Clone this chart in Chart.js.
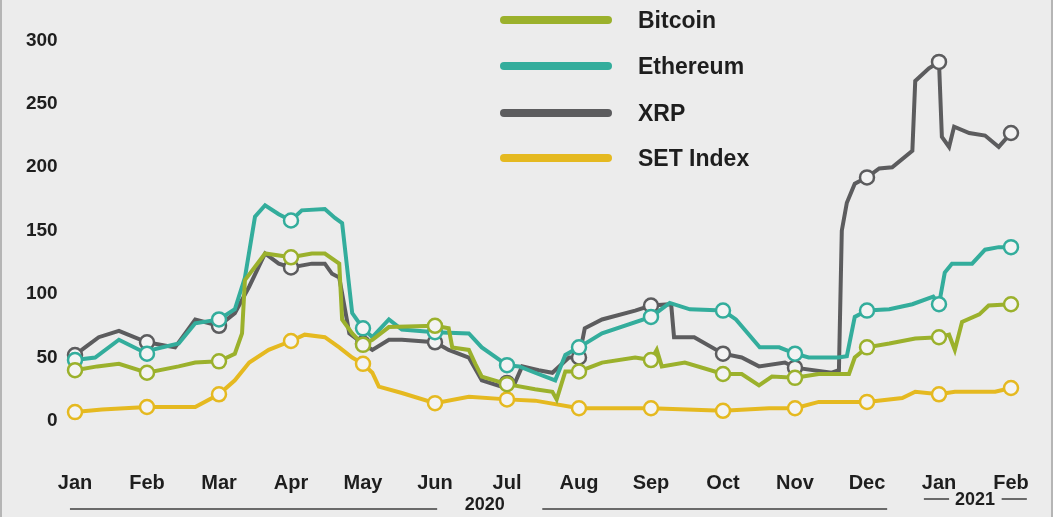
<!DOCTYPE html>
<html>
<head>
<meta charset="utf-8">
<script src="https://cdn.jsdelivr.net/npm/chart.js@4/dist/chart.umd.min.js"></script>
<style>
  html, body { margin: 0; padding: 0; background: #ececec; }
  #wrap {
    position: relative; width: 1053px; height: 517px; box-sizing: border-box;
    border-left: 2px solid #b5b5b5; border-right: 2px solid #b5b5b5;
    font-family: "Liberation Sans", Arial, sans-serif;
  }
  #chart { position: absolute; left: 0; top: 0; }
  .legend { position: absolute; left: 498px; top: 0; }
  .legend .row { position: absolute; left: 0; width: 300px; height: 46px; }
  .legend .bar { position: absolute; left: 0; width: 112px; height: 8px; border-radius: 4px; }
  .legend .txt { position: absolute; left: 138px; font-weight: bold; font-size: 23px; color: #1e1e1e; line-height: 26px; }
</style>
</head>
<body>
<div id="wrap">
  <canvas id="chart" width="1053" height="517"></canvas>
  <div class="legend" id="legend"></div>
</div>
<script>
// 月份标签与刻度
const monthLabels = ['Jan', 'Feb', 'Mar', 'Apr', 'May', 'Jun', 'Jul', 'Aug', 'Sep', 'Oct', 'Nov', 'Dec', 'Jan', 'Feb'];
const yTicks = [0, 50, 100, 150, 200, 250, 300];

// 各序列（x 为自 2020 年 1 月起的月份）
const btcMonths = [0,0.31,0.61,1,1.44,1.67,2,2.22,2.32,2.36,2.64,3,3.29,3.47,3.67,3.71,3.85,4,4.13,4.36,5,5.19,5.24,5.47,5.56,5.65,6,6.39,6.63,6.69,6.81,7,7.32,7.78,8,8.08,8.15,8.47,9,9.26,9.5,9.68,10,10.33,10.75,10.83,11,11.31,11.67,12,12.14,12.22,12.32,12.56,12.69,13];
const btcValues = [40,43,45,38,43,46,47,53,69,111,132,129,132,132,124,80,69,60,64,74,75,73,58,56,45,35,29,25,23,17,39,39,46,50,48,56,43,46,37,37,28,35,34,37,37,50,58,61,65,66,68,56,78,84,91,92];

const ethMonths = [0,0.28,0.61,1,1.07,1.44,1.67,2,2.22,2.36,2.5,2.64,2.83,3,3.15,3.47,3.61,3.71,3.85,4,4.13,4.36,4.54,5,5.47,5.65,6,6.17,6.39,6.67,6.81,7,7.32,8,8.26,8.54,9,9.18,9.51,9.78,10,10.19,10.6,10.72,10.83,11,11.31,11.63,11.92,12,12.08,12.18,12.46,12.64,12.83,13];
const ethValues = [48,50,64,53,56,61,77,80,88,113,161,170,163,158,166,167,160,156,85,73,66,80,72,70,69,58,44,43,38,32,52,58,69,82,93,88,87,80,58,58,53,50,50,51,82,87,88,92,98,92,117,124,124,135,137,137];

const xrpMonths = [0,0.14,0.33,0.61,1,1.39,1.67,2,2.22,2.42,2.64,2.83,3,3.29,3.47,3.57,3.67,3.81,4,4.13,4.36,4.54,5,5.19,5.47,5.65,5.93,6,6.11,6.21,6.44,6.63,6.86,7,7.08,7.32,7.78,8,8.28,8.32,8.6,9,9.26,9.5,9.86,10,10.51,10.61,10.65,10.72,10.83,11,11.17,11.35,11.63,11.67,11.86,12,12.04,12.14,12.21,12.42,12.64,12.83,13];
const xrpValues = [52,58,66,71,62,58,80,75,85,106,132,124,121,124,124,116,113,69,61,56,64,64,62,56,50,32,27,30,30,43,40,38,50,50,73,80,87,91,92,66,66,53,50,43,46,42,38,40,150,172,187,192,199,200,213,268,278,283,224,216,232,227,225,216,227];

const setMonths = [0,0.375,1,1.67,2,2.22,2.42,2.69,3,3.19,3.47,3.67,3.85,4,4.13,4.22,4.54,5,5.47,6,6.39,7,8,9,9.64,10,10.33,11,11.49,11.67,12,12.22,12.78,13];
const setValues = [7,9,11,11,21,32,46,56,63,68,66,58,50,45,38,27,22,14,19,17,16,10,10,8,10,10,15,15,18,23,21,23,23,26];

const seriesNames = ['Bitcoin', 'Ethereum', 'XRP', 'SET Index'];
const seriesColors = ['#9bb12c', '#33ad9c', '#5c5c5e', '#e5b920'];

// 年份标注（月份位置）
const yearNotes = [
  { text: '2020', at: 5.69, lines: [[-0.07, 5.03], [6.49, 11.28]], y: 505, lineY: 509 },
  { text: '2021', at: 12.5, lines: [[11.79, 12.14], [12.87, 13.22]], y: 500, lineY: 499 }
];

const FONT = '"Liberation Sans", Arial, sans-serif';

function toPoints(months, values) {
  return months.map((m, i) => ({ x: m, y: values[i] }));
}

const yearPlugin = {
  id: 'yearNotes',
  afterDraw(chart) {
    const ctx = chart.ctx;
    const xs = chart.scales.x;
    ctx.save();
    ctx.strokeStyle = '#6a6a6a';
    ctx.lineWidth = 2;
    ctx.fillStyle = '#1e1e1e';
    ctx.font = 'bold 18px ' + FONT;
    ctx.textAlign = 'center';
    ctx.textBaseline = 'middle';
    yearNotes.forEach(n => {
      n.lines.forEach(([a, b]) => {
        ctx.beginPath();
        ctx.moveTo(xs.getPixelForValue(a), n.lineY);
        ctx.lineTo(xs.getPixelForValue(b), n.lineY);
        ctx.stroke();
      });
      ctx.fillText(n.text, xs.getPixelForValue(n.at), n.y);
    });
    ctx.restore();
  }
};

const datasets = [
  toPoints(btcMonths, btcValues),
  toPoints(ethMonths, ethValues),
  toPoints(xrpMonths, xrpValues),
  toPoints(setMonths, setValues)
].map((data, i) => ({
  label: seriesNames[i],
  data: data,
  borderColor: seriesColors[i],
  backgroundColor: '#f3f3f3',
  borderWidth: 4,
  tension: 0,
  pointRadius: c => (c.raw && Number.isInteger(c.raw.x)) ? 7 : 0,
  pointBorderWidth: 2.5,
  pointBorderColor: seriesColors[i],
  pointBackgroundColor: '#f3f3f3'
}));

new Chart(document.getElementById('chart'), {
  type: 'line',
  data: { datasets: datasets },
  plugins: [yearPlugin],
  options: {
    responsive: false,
    animation: false,
    layout: { padding: { top: 15, right: 22.4, bottom: 0, left: 0 } },
    plugins: {
      legend: { display: false },
      tooltip: { enabled: false }
    },
    scales: {
      x: {
        type: 'linear',
        min: -0.2,
        max: 13.3,
        grid: { display: false, drawTicks: false },
        border: { display: false },
        afterBuildTicks: axis => { axis.ticks = monthLabels.map((_, i) => ({ value: i })); },
        afterFit: axis => { axis.height = 58; },
        ticks: {
          autoSkip: false,
          maxRotation: 0,
          padding: 12,
          color: '#1e1e1e',
          font: { family: FONT, size: 20, weight: 'bold' },
          callback: v => monthLabels[v]
        }
      },
      y: {
        min: -30,
        max: 320,
        grid: { display: false, drawTicks: false },
        border: { display: false },
        afterBuildTicks: axis => { axis.ticks = yTicks.map(v => ({ value: v })); },
        afterFit: axis => { axis.width = 58.6; },
        ticks: {
          padding: 3,
          color: '#1e1e1e',
          font: { family: FONT, size: 19, weight: 'bold' }
        }
      }
    }
  }
});

// 图例
const legend = document.getElementById('legend');
const legendTops = [20, 66, 113, 158];
seriesNames.forEach((name, i) => {
  const row = document.createElement('div');
  row.className = 'row';
  row.style.top = (legendTops[i] - 4) + 'px';
  row.innerHTML = '<div class="bar" style="top:0;background:' + seriesColors[i] + '"></div>' +
    '<div class="txt" style="top:-9px">' + name + '</div>';
  legend.appendChild(row);
});
</script>
</body>
</html>
